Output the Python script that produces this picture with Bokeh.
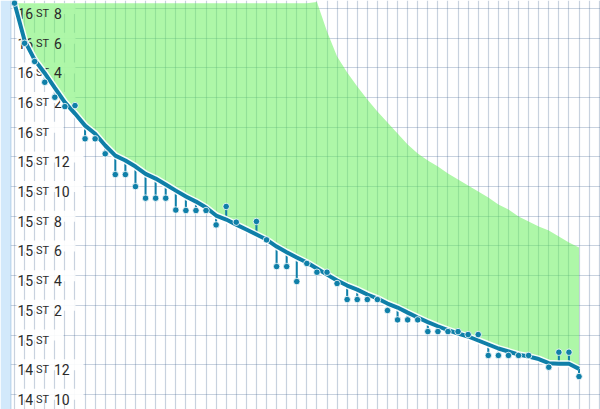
from bokeh.plotting import figure
from bokeh.models import FixedTicker, Span, GlobalInlineStyleSheet
from bokeh.core.properties import value
from bokeh.embed import file_html
from bokeh.resources import INLINE

# ---- data (pounds) ----
days = list(range(0, 57))
trend = [232.36, 229.84, 228.54, 227.64, 226.65, 225.68, 224.92, 224.11, 223.56, 222.77,
         222.09, 221.76, 221.35, 220.86, 220.54, 220.14, 219.73, 219.33, 218.99, 218.59,
         218.05, 217.78, 217.44, 217.11, 216.77, 216.43, 215.96, 215.58, 215.22, 214.88,
         214.48, 214.07, 213.67, 213.33, 213.06, 212.73, 212.46, 212.12, 211.85, 211.51,
         211.18, 210.87, 210.59, 210.33, 210.10, 209.90, 209.63, 209.36, 209.09, 208.89,
         208.68, 208.55, 208.38, 208.10, 208.06, 208.06, 207.72]
upper = [232.36, 232.36, 232.36, 232.36, 232.36, 232.36, 232.36, 232.36, 232.36, 232.36,
         232.36, 232.36, 232.36, 232.36, 232.36, 232.36, 232.36, 232.36, 232.36, 232.36,
         232.36, 232.36, 232.36, 232.36, 232.36, 232.36, 232.36, 232.36, 232.36, 232.36,
         232.44, 230.45, 228.76, 227.69, 226.74, 225.87, 225.06, 224.32, 223.58, 222.83,
         222.23, 221.76, 221.35, 220.88, 220.48, 220.07, 219.67, 219.26, 218.79, 218.45,
         217.98, 217.65, 217.31, 217.04, 216.63, 216.23, 215.89]
weigh_days = [0, 1, 2, 3, 4, 5, 6, 7, 8, 9, 10, 11, 12, 13, 14, 15, 16, 17, 18, 19, 20, 21, 22,
              24, 25, 26, 27, 28, 29, 30, 31, 32, 33, 34, 35, 36, 37, 38, 39, 40, 41, 42, 43,
              44, 45, 46, 47, 48, 49, 50, 51, 53, 54, 55, 56]
weights = [232.36, 229.66, 228.43, 227.03, 226.02, 225.39, 225.46, 223.22, 223.22, 222.21,
           220.81, 220.81, 220.00, 219.22, 219.22, 219.22, 218.42, 218.39, 218.39, 218.39,
           217.42, 218.66, 217.60,
           217.65, 216.41, 214.61, 214.61, 213.60, 214.82, 214.23, 214.23, 213.47, 212.39,
           212.39, 212.39, 212.39, 211.65, 211.02, 211.02, 211.02, 210.23, 210.23, 210.23,
           210.23, 210.03, 210.03, 208.62, 208.62, 208.62, 208.62, 208.62,
           207.83, 208.84, 208.84, 207.20]

tick_weights = [206, 208, 210, 212, 214, 216, 218, 220, 222, 224, 226, 228, 230, 232]
tick_stones = ["14", "14", "15", "15", "15", "15", "15", "15", "15", "16", "16", "16", "16", "16"]
tick_pounds = ["10", "12", "", "2", "4", "6", "8", "10", "12", "", "2", "4", "6", "8"]
day_ticks = list(range(0, 59))

# ---- layout ----
W, H = 600, 409
LEFT = 10
x_start, x_end = -0.397, 58.13
y_start, y_end = 204.98, 232.54
ppd = (W - LEFT) / (x_end - x_start)
ppl = H / (y_end - y_start)

BLUE = "#0f7fa8"
GREEN = "#5def51"

p = figure(width=W, height=H, x_range=(x_start, x_end), y_range=(y_start, y_end),
           x_axis_location=None, y_axis_location=None,
           toolbar_location=None, output_backend="svg",
           min_border_left=LEFT, min_border_right=0, min_border_top=0, min_border_bottom=0,
           border_fill_color="#d2e9fb", background_fill_color="white",
           outline_line_color=None)
p.stylesheets.append(GlobalInlineStyleSheet(css="html, body { margin: 0 !important; padding: 0; overflow: hidden; }"))

p.xgrid.ticker = FixedTicker(ticks=day_ticks)
p.ygrid.ticker = FixedTicker(ticks=tick_weights)
for g in (p.xgrid, p.ygrid):
    g.grid_line_color = "#4a6b94"
    g.grid_line_alpha = 0.3
    g.grid_line_width = 1.2

p.add_layout(Span(location=x_start, dimension="height", line_color="#8db9df", line_width=1.5))

# label backgrounds (hide the grid behind the labels)
lefts, rights, bots, tops = [], [], [], []
for lb in tick_pounds:
    wpx = 53 if lb == "" else (65 if len(lb) == 1 else 73)
    lefts.append(x_start + 6 / ppd)
    rights.append(x_start + wpx / ppd)
for t in tick_weights:
    bots.append(t - 5.5 / ppl)
    tops.append(t + 5.5 / ppl)
p.quad(left=lefts, right=rights, bottom=bots, top=tops, fill_color="white", fill_alpha=0.9,
       line_color=None)

# green zone between trend and upper bound (translucent over the grid)
p.varea(x=days, y1=trend, y2=upper, fill_color=GREEN, fill_alpha=0.5)

n = len(tick_weights)
common = dict(text_baseline="alphabetic", text_align="left", text_color="#2a2a2a",
              text_font=value("Roboto"), y_offset=5)
p.text(x=[x_start] * n, y=tick_weights, text=tick_stones, x_offset=7,
       text_font_size="14px", **common)
p.text(x=[x_start] * n, y=tick_weights, text=["ST"] * n, x_offset=25.5,
       text_font_size="11px", **common)
p.text(x=[x_start] * n, y=tick_weights, text=tick_pounds, x_offset=43.5,
       text_font_size="14px", **common)

# stems
trend_at = [trend[d] for d in weigh_days]
p.segment(x0=weigh_days, y0=trend_at, x1=weigh_days, y1=weights, line_color=BLUE, line_width=2)

# trend line with white halo
p.line(days, trend, line_color="white", line_width=7, line_alpha=0.9)
p.line(days, trend, line_color=BLUE, line_width=4)

# weigh-ins
p.scatter(weigh_days, weights, size=6.5, fill_color=BLUE, line_color="white", line_width=0.8)

open("out.html", "w").write(file_html(p, INLINE))
